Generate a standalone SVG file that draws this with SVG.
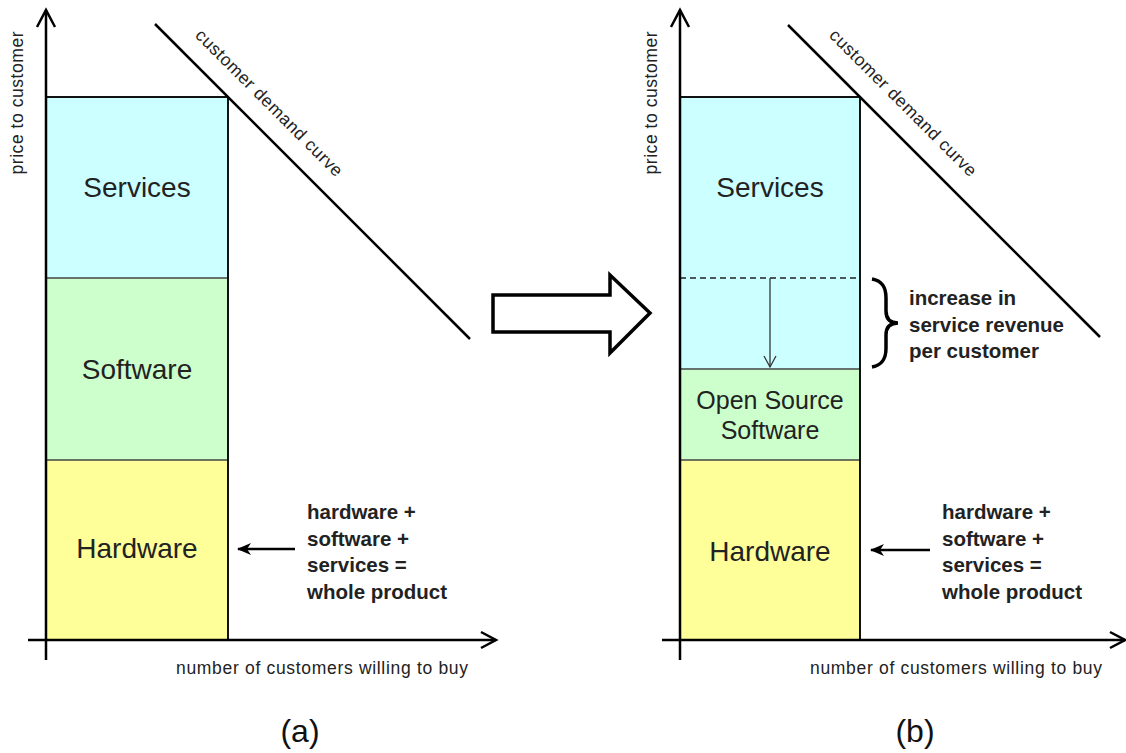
<svg xmlns="http://www.w3.org/2000/svg" width="1126" height="753" viewBox="0 0 1126 753">
<style>
.ax{stroke:#000;stroke-width:2.5;fill:none}
.chev{stroke:#000;stroke-width:2.5;fill:none;stroke-linejoin:miter}
.box{stroke:#111;stroke-width:2}
.div{stroke:#444;stroke-width:1.5}
.demand{stroke:#000;stroke-width:2.5}
.lbl{font-family:"Liberation Sans",Arial,sans-serif;font-size:28px;fill:#222;text-anchor:middle}
.oss{font-size:25px}
.small{font-family:"Liberation Sans",Arial,sans-serif;font-size:17.5px;fill:#222}
.note{font-family:"Liberation Sans",Arial,sans-serif;font-size:20.5px;font-weight:bold;fill:#222}
.cap{font-family:"Liberation Sans",Arial,sans-serif;font-size:32px;fill:#111;text-anchor:middle}
</style>
<defs>
<marker id="fillhead" markerWidth="14" markerHeight="12" refX="13" refY="6" orient="auto" markerUnits="userSpaceOnUse">
<path d="M0,0 L14,6 L0,12 L4,6 Z" fill="#000"/>
</marker>
</defs>

<!-- Panel (a) -->
<g id="panel-a">
<g id="a-services"><rect x="46" y="97" width="182" height="181" fill="#CCFFFF"/><text class="lbl" x="137" y="197">Services</text></g>
<g id="a-software"><rect x="46" y="278" width="182" height="182" fill="#CCFFCC"/><text class="lbl" x="137" y="379">Software</text></g>
<g id="a-hardware"><rect x="46" y="460" width="182" height="180" fill="#FFFF99"/><text class="lbl" x="137" y="558">Hardware</text></g>
<line class="div" x1="46" y1="278" x2="228" y2="278"/>
<line class="div" x1="46" y1="460" x2="228" y2="460"/>
<path class="box" fill="none" d="M46,97 L228,97 L228,640"/>
<g id="a-axes">
<line class="ax" x1="46" y1="10" x2="46" y2="660"/>
<path class="chev" d="M37,27 L46,10 L55,27"/>
<line class="ax" x1="28" y1="640" x2="496" y2="640"/>
<path class="chev" d="M481,632 L496,640 L481,648"/>
</g>
<line class="demand" x1="155" y1="24" x2="470" y2="339"/>
<text class="small" transform="translate(23,103) rotate(-90)" text-anchor="middle" textLength="143" lengthAdjust="spacing">price to customer</text>
<text class="small" transform="translate(265,107) rotate(45)" text-anchor="middle" textLength="200" lengthAdjust="spacing">customer demand curve</text>
<text class="small" x="176" y="674" textLength="292" lengthAdjust="spacing">number of customers willing to buy</text>
<g id="a-note">
<line x1="295" y1="549" x2="238" y2="549" stroke="#000" stroke-width="2.5" marker-end="url(#fillhead)"/>
<text class="note" x="307" y="519">hardware +</text>
<text class="note" x="307" y="546">software +</text>
<text class="note" x="307" y="572">services =</text>
<text class="note" x="307" y="599">whole product</text>
</g>
<text class="cap" x="300" y="742">(a)</text>
</g>

<!-- Transition arrow -->
<g id="transition">
<path d="M493,295 L610,295 L610,275 L650,313 L610,353 L610,332 L493,332 Z" fill="#fff" stroke="#000" stroke-width="3.5" stroke-linejoin="miter"/>
</g>

<!-- Panel (b) -->
<g id="panel-b">
<g id="b-services"><rect x="680" y="97" width="180" height="272" fill="#CCFFFF"/><text class="lbl" x="770" y="197">Services</text></g>
<g id="b-oss"><rect x="680" y="369" width="180" height="91" fill="#CCFFCC"/><text class="lbl oss" x="770" y="409">Open Source</text><text class="lbl oss" x="770" y="439">Software</text></g>
<g id="b-hardware"><rect x="680" y="460" width="180" height="180" fill="#FFFF99"/><text class="lbl" x="770" y="561">Hardware</text></g>
<line x1="680" y1="278" x2="860" y2="278" stroke="#222" stroke-width="1.3" stroke-dasharray="6,4"/>
<line class="div" x1="680" y1="369" x2="860" y2="369"/>
<line class="div" x1="680" y1="460" x2="860" y2="460"/>
<path class="box" fill="none" d="M680,97 L860,97 L860,640"/>
<g id="b-axes">
<line class="ax" x1="680" y1="10" x2="680" y2="660"/>
<path class="chev" d="M671,27 L680,10 L689,27"/>
<line class="ax" x1="662" y1="640" x2="1125" y2="640"/>
<path class="chev" d="M1110,632 L1125,640 L1110,648"/>
</g>
<line class="demand" x1="788" y1="25" x2="1100" y2="337"/>
<text class="small" transform="translate(657,103) rotate(-90)" text-anchor="middle" textLength="143" lengthAdjust="spacing">price to customer</text>
<text class="small" transform="translate(899,107) rotate(45)" text-anchor="middle" textLength="200" lengthAdjust="spacing">customer demand curve</text>
<text class="small" x="810" y="674" textLength="292" lengthAdjust="spacing">number of customers willing to buy</text>
<g id="shift-arrow">
<line x1="770" y1="278" x2="770" y2="367" stroke="#333" stroke-width="1.3"/>
<path d="M764,356 L770,367 L776,356" fill="none" stroke="#333" stroke-width="1.3"/>
</g>
<g id="brace-note">
<path d="M872,279 C883,281 886,288 886,298 L886,311 C886,319 890,323 898,323 C890,323 886,327 886,335 L886,348 C886,358 883,365 872,367" fill="none" stroke="#000" stroke-width="3.5"/>
<text class="note" x="909" y="305">increase in</text>
<text class="note" x="909" y="332">service revenue</text>
<text class="note" x="909" y="358">per customer</text>
</g>
<g id="b-note">
<line x1="930" y1="550" x2="871" y2="550" stroke="#000" stroke-width="2.5" marker-end="url(#fillhead)"/>
<text class="note" x="942" y="519">hardware +</text>
<text class="note" x="942" y="546">software +</text>
<text class="note" x="942" y="572">services =</text>
<text class="note" x="942" y="599">whole product</text>
</g>
<text class="cap" x="915" y="742">(b)</text>
</g>
</svg>
